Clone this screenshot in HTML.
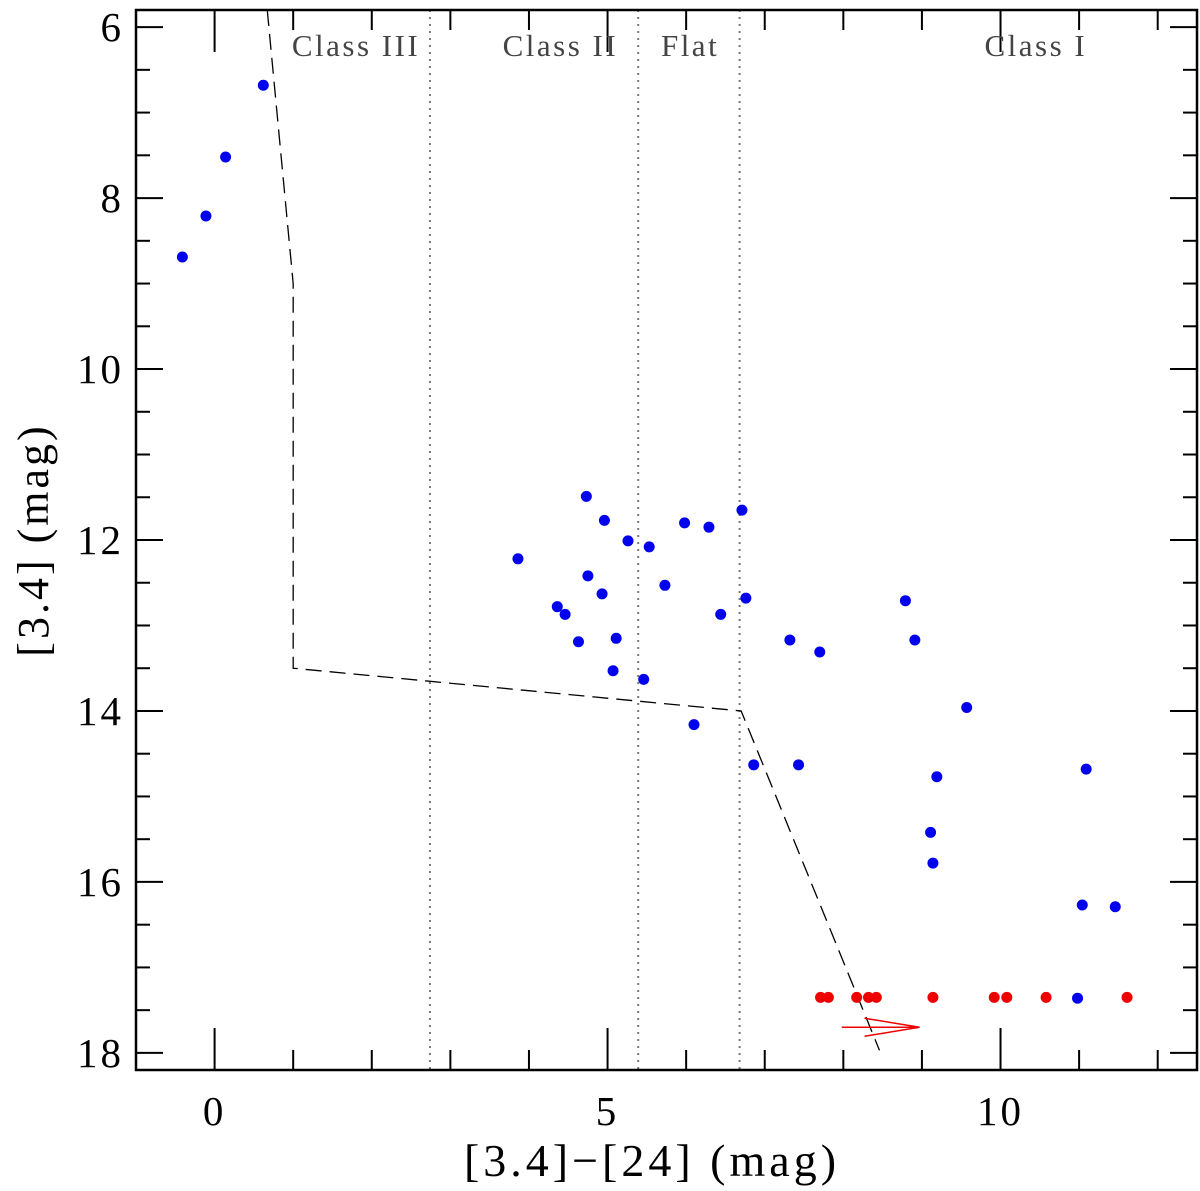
<!DOCTYPE html>
<html><head><meta charset="utf-8"><style>
body{margin:0;background:#fff}
svg text{font-family:"Liberation Serif",serif}
</style></head><body>
<svg id="c" width="1200" height="1186" xmlns="http://www.w3.org/2000/svg"></svg>
<script>
const blueX=[0.62,0.14,-0.11,-0.41,3.86,4.73,4.96,5.26,5.53,4.75,4.36,4.46,4.93,4.63,5.11,5.07,5.46,5.73,5.98,6.29,6.71,6.76,6.44,6.10,6.86,7.32,7.70,7.43,8.79,8.91,9.57,9.19,9.11,9.14,11.09,11.04,11.46,10.98];
const blueY=[6.68,7.52,8.21,8.69,12.22,11.49,11.77,12.01,12.08,12.42,12.78,12.87,12.63,13.19,13.15,13.53,13.63,12.53,11.80,11.85,11.65,12.68,12.87,14.16,14.63,13.17,13.31,14.63,12.71,13.17,13.96,14.77,15.42,15.78,14.68,16.27,16.29,17.36];
const redX=[7.71,7.81,8.17,8.32,8.42,9.14,9.92,10.08,10.58,11.61];
const redY=[17.35,17.35,17.35,17.35,17.35,17.35,17.35,17.35,17.35,17.35];
const boundX=[0.67,1.0,1.0,6.7,8.46];
const boundY=[5.8,9.0,13.5,14.0,17.97];
const classLines=[2.74,5.39,6.68];
const classLabels=["Class III","Class II","Flat","Class I"];
const classLabelX=[1.8,4.4,6.05,10.45];
const xTicks=[0,5,10];
const yTicks=[6,8,10,12,14,16,18];

const L=136,R=1197,T=10,B=1070,x0=-1,x1=12.5,y0=5.8,y1=18.2;
const sx=v=>L+(v-x0)/(x1-x0)*(R-L);
const sy=v=>T+(v-y0)/(y1-y0)*(B-T);
const svg=document.getElementById('c');
const NS="http://www.w3.org/2000/svg";
function mk(t,a,p){const e=document.createElementNS(NS,t);for(const k in a)e.setAttribute(k,a[k]);(p||svg).appendChild(e);return e;}

for(let v=-1;v<=12;v++){const len=(v%5===0)?42:20;const x=sx(v);
const t1=mk('line',{x1:x,y1:B,x2:x,y2:B-len,stroke:'#000','stroke-width':2});

const t2=mk('line',{x1:x,y1:T,x2:x,y2:T+len,stroke:'#000','stroke-width':2});
}
for(let v=6;v<=18;v+=0.5){const len=(v%2===0)?27:14;const y=sy(v);
const t1=mk('line',{x1:L,y1:y,x2:L+len,y2:y,stroke:'#000','stroke-width':2});

const t2=mk('line',{x1:R,y1:y,x2:R-len,y2:y,stroke:'#000','stroke-width':2});
}
xTicks.forEach(v=>{const t=mk('text',{x:sx(v),y:1125,'font-size':41,'letter-spacing':3,'text-anchor':'middle'});t.textContent=v;
});
yTicks.forEach(v=>{const t=mk('text',{x:124,y:sy(v)+14,'font-size':41,'letter-spacing':3,'text-anchor':'end'});t.textContent=v;
});

classLines.forEach(v=>{const l=mk('line',{x1:sx(v),y1:T,x2:sx(v),y2:B,stroke:'#777','stroke-width':2,'stroke-dasharray':'2,5'});
});
classLabels.forEach((s,i)=>{const t=mk('text',{x:sx(classLabelX[i]),y:56,'font-size':31,'letter-spacing':2.5,fill:'#444','text-anchor':'middle'});t.textContent=s;
});

const pl=mk('polyline',{points:boundX.map((v,i)=>sx(v)+','+sy(boundY[i])).join(' '),fill:'none',stroke:'#000','stroke-width':1.3,'stroke-dasharray':'16,8'});


blueX.forEach((v,i)=>{const c=mk('circle',{cx:sx(v),cy:sy(blueY[i]),r:5.5,fill:'#0000ee'});
});
redX.forEach((v,i)=>{const c=mk('circle',{cx:sx(v),cy:sy(redY[i]),r:5.5,fill:'#ee0000'});
});

const ay=sy(17.7),ax0=sx(7.98),ax1=sx(8.97);
const ar=mk('path',{d:`M${ax0},${ay}L${ax1},${ay}M${ax1-55},${ay-9}L${ax1},${ay}L${ax1-55},${ay+9}`,stroke:'#ee0000','stroke-width':1.5,fill:'none'});


const fr=mk('rect',{x:L,y:T,width:R-L,height:B-T,fill:'none',stroke:'#000','stroke-width':2.5});


const xt=mk('text',{x:652,y:1176,'font-size':46,'letter-spacing':4,'text-anchor':'middle'});xt.textContent='[3.4]−[24] (mag)';

const yt=mk('text',{x:0,y:0,'font-size':44,'letter-spacing':3,'text-anchor':'middle',transform:'translate(48,540) rotate(-90)'});yt.textContent='[3.4] (mag)';

</script>
</body></html>
